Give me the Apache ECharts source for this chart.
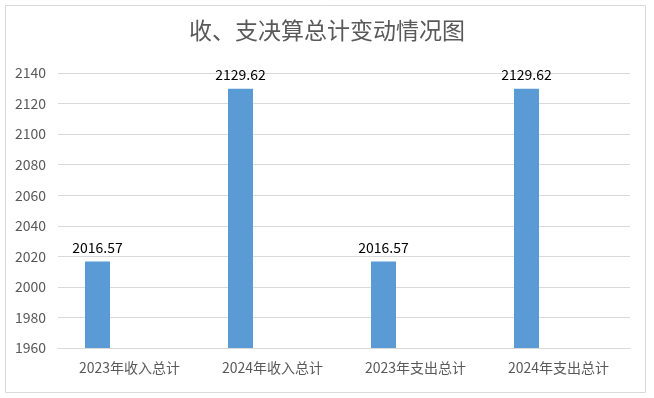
<!DOCTYPE html>
<html>
<head>
<meta charset="utf-8">
<script src="https://cdn.jsdelivr.net/npm/echarts@6/dist/echarts.min.js"></script>
<style>
  html, body { margin: 0; padding: 0; background: #fff; }
  #chart { width: 654px; height: 398px; }
</style>
</head>
<body>
<div id="chart"></div>
<script>
// data
const categories = ['2023年收入总计', '2024年收入总计', '2023年支出总计', '2024年支出总计'];
const totals = [2016.57, 2129.62, 2016.57, 2129.62];
const emptySeries = [null, null, null, null];

const chart = echarts.init(document.getElementById('chart'));
const font = '"Noto Sans CJK SC", "Microsoft YaHei", sans-serif';

const option = {
    animation: false,
    textStyle: { fontFamily: font },
    graphic: [
        {
            type: 'rect',
            shape: { x: 5.5, y: 5.5, width: 640, height: 387 },
            style: { fill: 'none', stroke: '#d9d9d9', lineWidth: 1 },
            silent: true
        }
    ],
    title: {
        text: '收、支决算总计变动情况图',
        left: 'center',
        top: 14,
        textStyle: { fontFamily: font, fontSize: 23, fontWeight: 'normal', color: '#595959' }
    },
    grid: { left: 58, right: 24, top: 73, bottom: 50 },
    xAxis: {
        type: 'category',
        data: categories,
        axisTick: { show: false },
        axisLine: { lineStyle: { color: '#d9d9d9' } },
        axisLabel: { color: '#595959', fontSize: 14, margin: 13, fontFamily: font }
    },
    yAxis: {
        type: 'value',
        min: 1960,
        max: 2140,
        interval: 20,
        axisLine: { show: false },
        axisTick: { show: false },
        splitLine: { lineStyle: { color: '#d9d9d9' } },
        axisLabel: { color: '#595959', fontSize: 14, margin: 12, fontFamily: font, formatter: v => String(v) }
    },
    series: [
        {
            type: 'bar',
            data: totals,
            barWidth: 25,
            barGap: '156%',
            itemStyle: { color: '#5b9bd5' },
            label: {
                show: true,
                position: 'top',
                distance: 7,
                color: '#000',
                fontSize: 14,
                fontFamily: font,
                formatter: p => p.value.toFixed(2)
            }
        },
        {
            type: 'bar',
            data: emptySeries,
            barWidth: 25
        }
    ]
};
chart.setOption(option);
</script>
</body>
</html>
